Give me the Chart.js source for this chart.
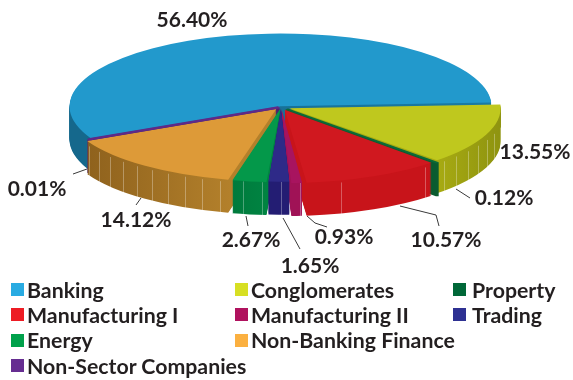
<!DOCTYPE html>
<html>
<head>
<meta charset="utf-8">
<script src="https://cdn.jsdelivr.net/npm/chart.js@4"></script>
<style>
  body { margin: 0; background: #fff; }
  #wrap { position: relative; width: 573px; height: 380px; overflow: hidden; }
  #legend {
    position: absolute; left: 11px; top: 277px;
    display: grid; grid-template-columns: 224px 218px auto; grid-auto-rows: 25.3px;
    font: 700 21.3px Lato, sans-serif; color: #231f20;
  }
  #legend div { display: flex; align-items: center; white-space: nowrap; }
  #legend div:last-child { grid-column: 1 / 3; }
  #legend i { width: 13px; height: 13px; margin-right: 3px; flex: none; }
  #legend div:nth-child(3n):not(:last-child) i { margin-right: 6px; }
</style>
</head>
<body>
<div id="wrap">
  <canvas id="pie" width="573" height="380"></canvas>
  <div id="legend"></div>
</div>
<script>
var categories = ['Banking', 'Conglomerates', 'Property', 'Manufacturing I', 'Manufacturing II', 'Trading', 'Energy', 'Non-Banking Finance', 'Non-Sector Companies'];
var shares = [56.40, 13.55, 0.12, 10.57, 0.93, 1.65, 2.67, 14.12, 0.01];

var legendColors = ['#29abe2', '#d7df23', '#006838', '#ed1c24', '#b0125e', '#2e3192', '#00a14b', '#fbb040', '#662d91'];
var topColors = ['#2299cc', '#bfc81e', '#0b6a38', '#d0181f', '#a8145f', '#2e2a88', '#04984a', '#dd9a38', '#5e2a88'];
var wallLeft = ['#15688c', '#a8ab12', '#0b5c30', '#c8141a', '#a01256', '#231d73', '#007a3c', '#8f621d', '#4c2070'];
var wallRight = ['#1a7ba4', '#8f9410', '#0b5c30', '#c8141a', '#a01256', '#231d73', '#008442', '#b3802b', '#4c2070'];

var explode = [8, 36, 32, 36, 24, 16, 20, 30, 8];
var edges = [0, 0, 4, 0, 0, 0, 0, 0, 6];
var facetStep = [0, 5, 0, 25, 5, 5, 5, 5, 0];

var tilt = 0.345;
var pieY = 107;
var depth = 33;
var radius = 209;

var callouts = [
  [[73, 174], [87, 169]],
  [[136, 205], [141, 198]],
  [[246, 216], [248, 226]],
  [[283, 218], [300, 249]],
  [[307, 216], [315, 223], [327, 227]],
  [[400, 206], [436, 215], [439, 226]],
  [[456, 189], [470, 198]]
];
// same order as shares
var labelAt = [[192, 20], [535, 152], [504, 198], [446, 240], [344, 237], [310, 266], [251, 240], [136, 220], [37, 189]];

function midAngle(arc) {
  return (arc.startAngle + arc.endAngle) / 2;
}

var pie3d = {
  id: 'pie3d',
  beforeDatasetDraw: function(chart, args) {
    var ctx = chart.ctx;
    var arcs = args.meta.data;
    var cy = arcs[0].y;

    function squash(shift) {
      ctx.translate(0, pieY + shift);
      ctx.scale(1, tilt);
      ctx.translate(0, -cy);
    }

    // far slices first so the near walls cover them
    var order = arcs.map(function(a, i) { return i; }).sort(function(a, b) {
      return Math.sin(midAngle(arcs[a])) - Math.sin(midAngle(arcs[b]));
    });

    order.forEach(function(i) {
      var arc = arcs[i];
      var saved = arc.options;
      var x0 = arc.x + radius * Math.min(Math.cos(arc.startAngle), Math.cos(arc.endAngle));
      var x1 = arc.x + radius * Math.max(Math.cos(arc.startAngle), Math.cos(arc.endAngle));
      var grad = ctx.createLinearGradient(x0, 0, x1 + 1, 0);
      grad.addColorStop(0, wallLeft[i]);
      grad.addColorStop(1, wallRight[i]);
      var wall = Object.create(saved);
      wall.backgroundColor = grad;
      wall.borderColor = wallLeft[i];
      arc.options = wall;
      for (var d = depth; d > 0; d--) {
        ctx.save();
        squash(d);
        arc.draw(ctx);
        ctx.restore();
      }
      arc.options = saved;

      // thin light seams on the wall
      if (facetStep[i]) {
        var off = explode[i] / 4;
        var mid = midAngle(arc);
        var step = facetStep[i];
        var a0 = Math.ceil((arc.startAngle * 180 / Math.PI + 0.5) / step) * step;
        ctx.save();
        ctx.strokeStyle = 'rgba(255,255,255,0.3)';
        ctx.lineWidth = 1;
        for (var a = a0; a * Math.PI / 180 < arc.endAngle; a += step) {
          var rad = a * Math.PI / 180;
          var fx = arc.x + off * Math.cos(mid) + (radius + off) * Math.cos(rad);
          var fy = pieY + (off * Math.sin(mid) + (radius + off) * Math.sin(rad)) * tilt;
          ctx.beginPath();
          ctx.moveTo(Math.round(fx) + 0.5, fy);
          ctx.lineTo(Math.round(fx) + 0.5, fy + depth);
          ctx.stroke();
        }
        ctx.restore();
      }
    });

    ctx.save();
    squash(0);
  },
  afterDatasetDraw: function(chart) {
    chart.ctx.restore();
  },
  afterDraw: function(chart) {
    var ctx = chart.ctx;
    ctx.save();
    ctx.strokeStyle = '#3a3a3a';
    ctx.lineWidth = 1;
    callouts.forEach(function(line) {
      ctx.beginPath();
      line.forEach(function(p, k) {
        if (k === 0) ctx.moveTo(p[0], p[1]);
        else ctx.lineTo(p[0], p[1]);
      });
      ctx.stroke();
    });
    ctx.fillStyle = '#231f20';
    ctx.font = '700 21px Lato, sans-serif';
    ctx.textAlign = 'center';
    ctx.textBaseline = 'middle';
    shares.forEach(function(v, i) {
      ctx.fillText(v.toFixed(2) + '%', labelAt[i][0], labelAt[i][1]);
    });
    ctx.restore();
  }
};

new Chart(document.getElementById('pie'), {
  type: 'pie',
  data: {
    labels: categories,
    datasets: [{
      data: shares,
      backgroundColor: topColors,
      borderColor: topColors,
      borderWidth: edges,
      offset: explode,
      clip: false
    }]
  },
  options: {
    responsive: false,
    animation: false,
    rotation: -116,
    radius: radius,
    layout: { padding: { right: 11 } },
    plugins: { legend: { display: false }, tooltip: { enabled: false } }
  },
  plugins: [pie3d]
});

var legend = document.getElementById('legend');
categories.forEach(function(name, i) {
  var row = document.createElement('div');
  var box = document.createElement('i');
  box.style.background = legendColors[i];
  row.appendChild(box);
  row.appendChild(document.createTextNode(name));
  legend.appendChild(row);
});
</script>
</body>
</html>
